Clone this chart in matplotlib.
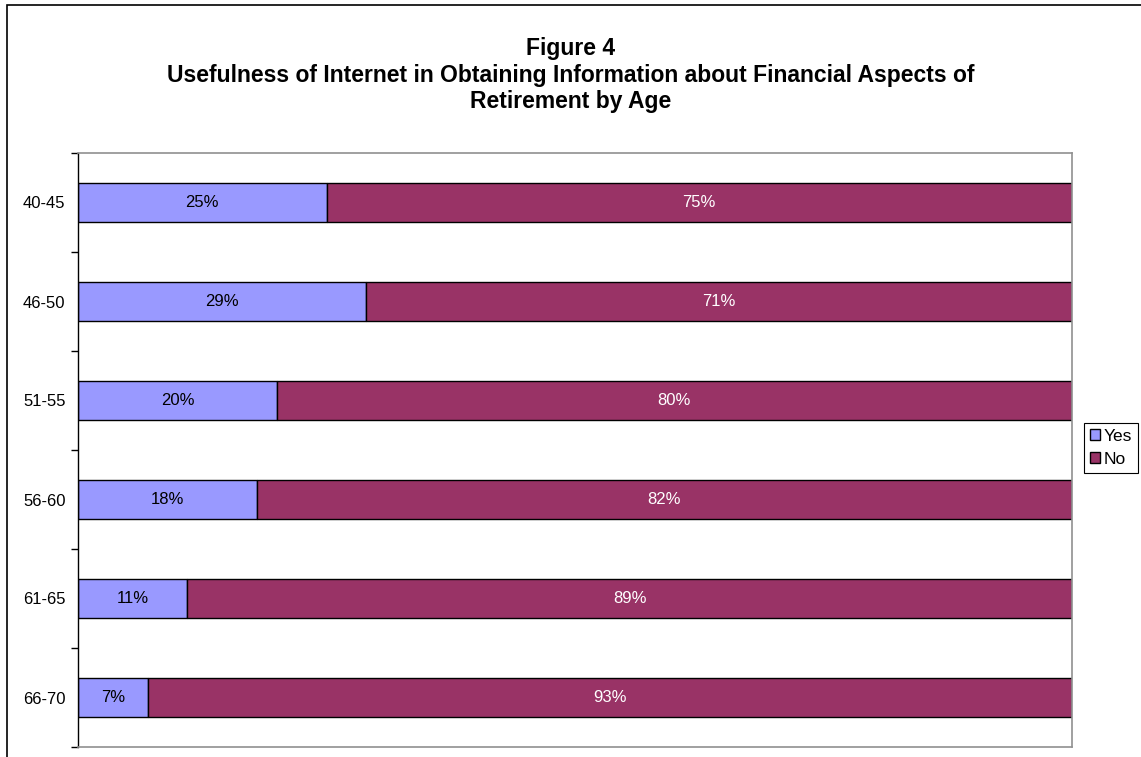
import matplotlib.pyplot as plt
from matplotlib.patches import Rectangle
import numpy as np

plt.rcParams['font.family'] = ['Liberation Sans', 'DejaVu Sans']

ages = ['40-45', '46-50', '51-55', '56-60', '61-65', '66-70']
yes = [25, 29, 20, 18, 11, 7]
no = [75, 71, 80, 82, 89, 93]

fig = plt.figure(figsize=(11.41, 7.57), dpi=100)
ax = fig.add_axes([78/1141, 1 - 747/757, (1072 - 78)/1141, (747 - 153)/757])

# outer frame: only top and left edges show inside the image
fig.patches.append(Rectangle((7/1141, -0.1), 1.2, 1 - 5/757 + 0.1,
                             transform=fig.transFigure, fill=False,
                             edgecolor='black', linewidth=1.2))

y = np.arange(len(ages))
h = 0.4
b1 = ax.barh(y, yes, height=h, color='#9999FF', edgecolor='black', linewidth=1.0, label='Yes')
b2 = ax.barh(y, no, left=yes, height=h, color='#993366', edgecolor='black', linewidth=1.0, label='No')

for i in range(len(ages)):
    ax.text(yes[i] / 2, y[i], f'{yes[i]}%', ha='center', va='center', fontsize=12, color='black')
    ax.text(yes[i] + no[i] / 2, y[i], f'{no[i]}%', ha='center', va='center', fontsize=12, color='white')

ax.set_xlim(0, 100)
ax.set_ylim(len(ages) - 0.5, -0.5)
ax.set_yticks(y)
ax.set_yticklabels(ages, fontsize=12)
ax.set_yticks(np.arange(-0.5, len(ages)), minor=True)
ax.tick_params(axis='y', which='major', length=0, pad=9)
ax.tick_params(axis='y', which='minor', length=5, width=1, direction='out')
ax.set_xticks([])

for s in ['top', 'right', 'bottom']:
    ax.spines[s].set_color('#909090')
    ax.spines[s].set_linewidth(1.2)
ax.spines['left'].set_color('black')
ax.spines['left'].set_linewidth(1.0)

title_lines = ['Figure 4',
               'Usefulness of Internet in Obtaining Information about Financial Aspects of',
               'Retirement by Age']
for line, base in zip(title_lines, [55, 82, 108]):
    fig.text(0.5, 1 - base/757, line, ha='center', va='baseline', fontsize=16.5, fontweight='bold')

leg = fig.legend(handles=[b1, b2], labels=['Yes', 'No'], loc='upper left',
                 bbox_to_anchor=(1084/1141, 1 - 423/757), fontsize=12.5,
                 frameon=True, fancybox=False, edgecolor='black', framealpha=1,
                 handlelength=0.6, handleheight=0.6, handletextpad=0.2,
                 borderpad=0.35, labelspacing=0.45, borderaxespad=0)
leg.get_frame().set_linewidth(0.8)

fig.savefig('out.png', dpi=100)
